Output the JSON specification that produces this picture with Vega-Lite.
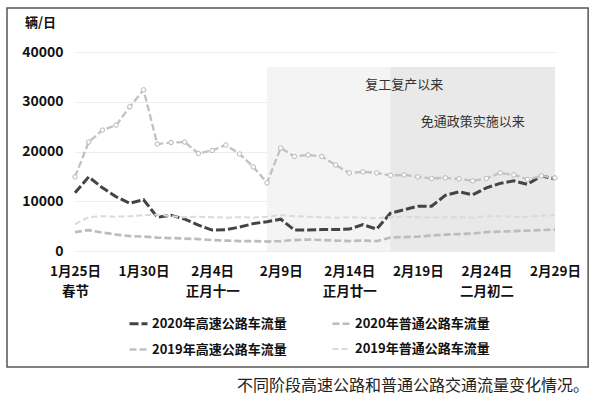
{
  "$schema": "https://vega.github.io/schema/vega-lite/v6.json",
  "autosize": "none",
  "width": 480,
  "height": 199,
  "padding": {"left": 75, "top": 52, "right": 45, "bottom": 153},
  "background": "white",
  "config": {
    "font": "Noto Sans CJK SC",
    "view": {"stroke": null}
  },
  "title": {
    "text": "不同阶段高速公路和普通公路交通流量变化情况。",
    "orient": "bottom",
    "anchor": "end",
    "frame": "group",
    "fontSize": 16,
    "fontWeight": "normal",
    "color": "#222",
    "offset": 10,
    "dx": 34
  },
  "datasets": {
    "traffic": [
      {"date": "2020-01-25", "2020年高速公路车流量": 11700, "2020年普通公路车流量": 3800, "2019年高速公路车流量": 14900, "2019年普通公路车流量": 5400},
      {"date": "2020-01-26", "2020年高速公路车流量": 14900, "2020年普通公路车流量": 4200, "2019年高速公路车流量": 21900, "2019年普通公路车流量": 6800},
      {"date": "2020-01-27", "2020年高速公路车流量": 12700, "2020年普通公路车流量": 3700, "2019年高速公路车流量": 24300, "2019年普通公路车流量": 7000},
      {"date": "2020-01-28", "2020年高速公路车流量": 10900, "2020年普通公路车流量": 3300, "2019年高速公路车流量": 25300, "2019年普通公路车流量": 6900},
      {"date": "2020-01-29", "2020年高速公路车流量": 9600, "2020年普通公路车流量": 3000, "2019年高速公路车流量": 29000, "2019年普通公路车流量": 7000},
      {"date": "2020-01-30", "2020年高速公路车流量": 10300, "2020年普通公路车流量": 2900, "2019年高速公路车流量": 32400, "2019年普通公路车流量": 7200},
      {"date": "2020-01-31", "2020年高速公路车流量": 6800, "2020年普通公路车流量": 2700, "2019年高速公路车流量": 21500, "2019年普通公路车流量": 7300},
      {"date": "2020-02-01", "2020年高速公路车流量": 7200, "2020年普通公路车流量": 2600, "2019年高速公路车流量": 21800, "2019年普通公路车流量": 7000},
      {"date": "2020-02-02", "2020年高速公路车流量": 6400, "2020年普通公路车流量": 2500, "2019年高速公路车流量": 21900, "2019年普通公路车流量": 6800},
      {"date": "2020-02-03", "2020年高速公路车流量": 5200, "2020年普通公路车流量": 2400, "2019年高速公路车流量": 19600, "2019年普通公路车流量": 6900},
      {"date": "2020-02-04", "2020年高速公路车流量": 4200, "2020年普通公路车流量": 2200, "2019年高速公路车流量": 20200, "2019年普通公路车流量": 6800},
      {"date": "2020-02-05", "2020年高速公路车流量": 4300, "2020年普通公路车流量": 2100, "2019年高速公路车流量": 21300, "2019年普通公路车流量": 6700},
      {"date": "2020-02-06", "2020年高速公路车流量": 4800, "2020年普通公路车流量": 2000, "2019年高速公路车流量": 19500, "2019年普通公路车流量": 6800},
      {"date": "2020-02-07", "2020年高速公路车流量": 5500, "2020年普通公路车流量": 2000, "2019年高速公路车流量": 16900, "2019年普通公路车流量": 6700},
      {"date": "2020-02-08", "2020年高速公路车流量": 5900, "2020年普通公路车流量": 1900, "2019年高速公路车流量": 13700, "2019年普通公路车流量": 6900},
      {"date": "2020-02-09", "2020年高速公路车流量": 6400, "2020年普通公路车流量": 2000, "2019年高速公路车流量": 20700, "2019年普通公路车流量": 7200},
      {"date": "2020-02-10", "2020年高速公路车流量": 4200, "2020年普通公路车流量": 2200, "2019年高速公路车流量": 19000, "2019年普通公路车流量": 7000},
      {"date": "2020-02-11", "2020年高速公路车流量": 4200, "2020年普通公路车流量": 2300, "2019年高速公路车流量": 19300, "2019年普通公路车流量": 6900},
      {"date": "2020-02-12", "2020年高速公路车流量": 4300, "2020年普通公路车流量": 2200, "2019年高速公路车流量": 19000, "2019年普通公路车流量": 6800},
      {"date": "2020-02-13", "2020年高速公路车流量": 4300, "2020年普通公路车流量": 2100, "2019年高速公路车流量": 17300, "2019年普通公路车流量": 6700},
      {"date": "2020-02-14", "2020年高速公路车流量": 4400, "2020年普通公路车流量": 2000, "2019年高速公路车流量": 15700, "2019年普通公路车流量": 6800},
      {"date": "2020-02-15", "2020年高速公路车流量": 5300, "2020年普通公路车流量": 2100, "2019年高速公路车流量": 15900, "2019年普通公路车流量": 6700},
      {"date": "2020-02-16", "2020年高速公路车流量": 4400, "2020年普通公路车流量": 2000, "2019年高速公路车流量": 15700, "2019年普通公路车流量": 6600},
      {"date": "2020-02-17", "2020年高速公路车流量": 7600, "2020年普通公路车流量": 2700, "2019年高速公路车流量": 15200, "2019年普通公路车流量": 6800},
      {"date": "2020-02-18", "2020年高速公路车流量": 8300, "2020年普通公路车流量": 2800, "2019年高速公路车流量": 15300, "2019年普通公路车流量": 6900},
      {"date": "2020-02-19", "2020年高速公路车流量": 9000, "2020年普通公路车流量": 2900, "2019年高速公路车流量": 14900, "2019年普通公路车流量": 6800},
      {"date": "2020-02-20", "2020年高速公路车流量": 9000, "2020年普通公路车流量": 3100, "2019年高速公路车流量": 14600, "2019年普通公路车流量": 6700},
      {"date": "2020-02-21", "2020年高速公路车流量": 11200, "2020年普通公路车流量": 3300, "2019年高速公路车流量": 14700, "2019年普通公路车流量": 6800},
      {"date": "2020-02-22", "2020年高速公路车流量": 11900, "2020年普通公路车流量": 3400, "2019年高速公路车流量": 14500, "2019年普通公路车流量": 6800},
      {"date": "2020-02-23", "2020年高速公路车流量": 11300, "2020年普通公路车流量": 3500, "2019年高速公路车流量": 14100, "2019年普通公路车流量": 6700},
      {"date": "2020-02-24", "2020年高速公路车流量": 12700, "2020年普通公路车流量": 3800, "2019年高速公路车流量": 14600, "2019年普通公路车流量": 7000},
      {"date": "2020-02-25", "2020年高速公路车流量": 13600, "2020年普通公路车流量": 3900, "2019年高速公路车流量": 15700, "2019年普通公路车流量": 7000},
      {"date": "2020-02-26", "2020年高速公路车流量": 14100, "2020年普通公路车流量": 4000, "2019年高速公路车流量": 15300, "2019年普通公路车流量": 6900},
      {"date": "2020-02-27", "2020年高速公路车流量": 13400, "2020年普通公路车流量": 4100, "2019年高速公路车流量": 14400, "2019年普通公路车流量": 6900},
      {"date": "2020-02-28", "2020年高速公路车流量": 15100, "2020年普通公路车流量": 4200, "2019年高速公路车流量": 15100, "2019年普通公路车流量": 7100},
      {"date": "2020-02-29", "2020年高速公路车流量": 14500, "2020年普通公路车流量": 4300, "2019年高速公路车流量": 14700, "2019年普通公路车流量": 7200}
    ],
    "phases": [
      {"start": "2020-02-08", "end": "2020-02-29", "phase": "复工复产以来", "labelDate": "2020-02-18", "labelValue": 33400},
      {"start": "2020-02-17", "end": "2020-02-29", "phase": "免通政策实施以来", "labelDate": "2020-02-23", "labelValue": 25900}
    ]
  },
  "layer": [
    {
      "data": {"values": [{}]},
      "mark": {"type": "rect", "fill": null, "stroke": "#555", "strokeWidth": 1.5, "clip": false},
      "encoding": {
        "x": {"datum": {"year": 2020, "month": 1, "date": 20, "hours": 1, "utc": true}, "type": "temporal"},
        "x2": {"datum": {"year": 2020, "month": 3, "date": 2, "hours": 10, "utc": true}},
        "y": {"datum": 48840, "type": "quantitative"},
        "y2": {"datum": -23300}
      }
    },
    {
      "data": {"name": "phases"},
      "mark": {"type": "rect"},
      "encoding": {
        "x": {"field": "start", "type": "temporal"},
        "x2": {"field": "end"},
        "y": {"datum": 0, "type": "quantitative"},
        "y2": {"datum": 37000},
        "fill": {"field": "phase", "type": "nominal", "scale": {"domain": ["复工复产以来", "免通政策实施以来"], "range": ["#f4f4f4", "#e9e9e9"]}, "legend": null}
      }
    },
    {
      "data": {"name": "phases"},
      "mark": {"type": "text", "fontSize": 13, "color": "#333", "align": "center", "baseline": "middle"},
      "encoding": {
        "x": {"field": "labelDate", "type": "temporal"},
        "y": {"field": "labelValue", "type": "quantitative"},
        "text": {"field": "phase"}
      }
    },
    {
      "data": {"name": "traffic"},
      "transform": [
        {"fold": ["2020年高速公路车流量", "2020年普通公路车流量", "2019年高速公路车流量", "2019年普通公路车流量"], "as": ["series", "value"]}
      ],
      "mark": {"type": "line", "strokeCap": "butt"},
      "encoding": {
        "x": {
          "field": "date", "type": "temporal",
          "scale": {"type": "utc", "domain": [{"year": 2020, "month": 1, "date": 25, "utc": true}, {"year": 2020, "month": 2, "date": 29, "utc": true}]},
          "axis": {
            "title": null, "domain": false, "ticks": false, "grid": false,
            "values": [
              {"year": 2020, "month": 1, "date": 25, "utc": true},
              {"year": 2020, "month": 1, "date": 30, "utc": true},
              {"year": 2020, "month": 2, "date": 4, "utc": true},
              {"year": 2020, "month": 2, "date": 9, "utc": true},
              {"year": 2020, "month": 2, "date": 14, "utc": true},
              {"year": 2020, "month": 2, "date": 19, "utc": true},
              {"year": 2020, "month": 2, "date": 24, "utc": true},
              {"year": 2020, "month": 2, "date": 29, "utc": true}
            ],
            "labelExpr": "[utcFormat(datum.value, '%-m月%-d日'), utcFormat(datum.value, '%m%d') == '0125' ? '春节' : utcFormat(datum.value, '%m%d') == '0204' ? '正月十一' : utcFormat(datum.value, '%m%d') == '0214' ? '正月廿一' : utcFormat(datum.value, '%m%d') == '0224' ? '二月初二' : '']",
            "labelFontSize": 13.5, "labelFontWeight": "bold", "labelColor": "#111",
            "labelLineHeight": 20, "labelPadding": 13, "labelFlush": false, "labelOverlap": false
          }
        },
        "y": {
          "field": "value", "type": "quantitative",
          "scale": {"domain": [0, 40000], "nice": false},
          "axis": {
            "title": "辆/日", "titleAngle": 0, "titleX": -35, "titleY": -30, "titleAlign": "center", "titleBaseline": "middle",
            "titleFontSize": 13, "titleFontWeight": "bold", "titleColor": "#111",
            "values": [0, 10000, 20000, 30000, 40000], "format": "d",
            "domain": false, "ticks": false, "grid": true, "gridColor": "#ededed",
            "labelFontSize": 14, "labelFontWeight": "bold", "labelColor": "#111", "labelPadding": 12
          }
        },
        "color": {
          "field": "series", "type": "nominal",
          "scale": {
            "domain": ["2020年高速公路车流量", "2020年普通公路车流量", "2019年高速公路车流量", "2019年普通公路车流量"],
            "range": ["#444444", "#bcbcbc", "#c2c2c2", "#dadada"]
          },
          "legend": {
            "title": null, "orient": "none", "legendX": 53, "legendY": 261, "columns": 2, "direction": "horizontal", "columnPadding": 40, "rowPadding": 8,
            "symbolType": "stroke", "symbolSize": 324, "symbolStrokeWidth": 2.5,
            "labelFontSize": 13, "labelFontWeight": "bold", "labelColor": "#111", "labelOffset": 3
          }
        },
        "strokeDash": {
          "field": "series", "type": "nominal",
          "scale": {
            "domain": ["2020年高速公路车流量", "2020年普通公路车流量", "2019年高速公路车流量", "2019年普通公路车流量"],
            "range": [[9, 3], [7, 3], [7, 3], [6, 3]]
          },
          "legend": {
            "title": null, "orient": "none", "legendX": 53, "legendY": 261, "columns": 2, "direction": "horizontal", "columnPadding": 40, "rowPadding": 8,
            "symbolType": "stroke", "symbolSize": 324, "symbolStrokeWidth": 2.5,
            "labelFontSize": 13, "labelFontWeight": "bold", "labelColor": "#111", "labelOffset": 3
          }
        },
        "strokeWidth": {
          "field": "series", "type": "nominal",
          "scale": {
            "domain": ["2020年高速公路车流量", "2020年普通公路车流量", "2019年高速公路车流量", "2019年普通公路车流量"],
            "range": [3, 2, 2.5, 2]
          },
          "legend": null
        }
      }
    },
    {
      "data": {"name": "traffic"},
      "mark": {"type": "point", "shape": "circle", "filled": false, "fill": "white", "stroke": "#b8b8b8", "strokeWidth": 1, "size": 20, "opacity": 1},
      "encoding": {
        "x": {"field": "date", "type": "temporal"},
        "y": {"field": "2019年高速公路车流量", "type": "quantitative"}
      }
    }
  ]
}
